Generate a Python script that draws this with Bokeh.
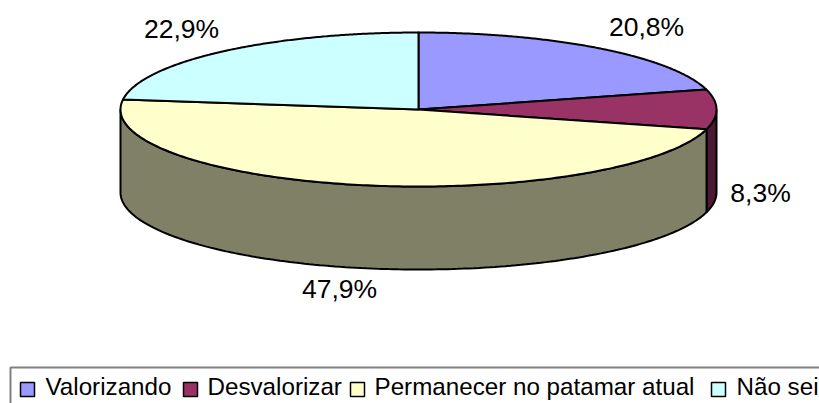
import numpy as np
from bokeh.plotting import figure
from bokeh.models import Range1d
from bokeh.core.properties import value
from bokeh.embed import file_html
from bokeh.resources import INLINE

categories = ["Valorizando", "Desvalorizar", "Permanecer no patamar atual", "Não sei"]
shares = [20.8, 8.3, 47.9, 22.9]
labels = ["20,8%", "8,3%", "47,9%", "22,9%"]
top_colors = ["#9999FF", "#993366", "#FFFFCC", "#CCFFFF"]
side_colors = ["#4D4D80", "#4D1933", "#808066", "#668080"]

CX, CY, RX, RY, DEPTH = 418.0, 109.0, 298.0, 77.0, 83.0
label_pos = [(646, 26), (760, 192), (339, 288), (181, 28)]
swatch_x = [20, 183, 350, 711]
text_x = [45, 207, 374, 736]

W, H = 819, 403

p = figure(width=W, height=H, output_backend="svg", toolbar_location=None,
           x_range=Range1d(0, W), y_range=Range1d(H, 0),
           min_border=0, outline_line_color=None)
p.xaxis.visible = False
p.yaxis.visible = False
p.grid.visible = False


def ell(t, dy=0.0):
    return CX + RX * np.sin(t), CY + dy - RY * np.cos(t)


frac = np.array(shares) / sum(shares) * 2 * np.pi
edges = np.concatenate([[0], np.cumsum(frac)])

# walls
for i in range(len(shares)):
    a, b = max(edges[i], np.pi / 2), min(edges[i + 1], 3 * np.pi / 2)
    if a >= b:
        continue
    t = np.linspace(a, b, 160)
    x1, y1 = ell(t)
    x2, y2 = ell(t[::-1], DEPTH)
    p.patch(np.r_[x1, x2], np.r_[y1, y2], fill_color=side_colors[i],
            line_color="black", line_width=2)

# top faces
for i in range(len(shares)):
    t = np.linspace(edges[i], edges[i + 1], 200)
    x, y = ell(t)
    p.patch(np.r_[CX, x], np.r_[CY, y], fill_color=top_colors[i],
            line_color="black", line_width=2, line_join="round")

# percentage labels
p.text([q[0] for q in label_pos], [q[1] for q in label_pos], text=labels,
       text_font=value("Liberation Sans"), text_font_size="26.5px", text_color="black",
       text_align="center", text_baseline="middle")

# legend
p.quad(left=[10], right=[840], top=[367], bottom=[430], fill_color="white",
       line_color="#808080", line_width=2)
for i, c in enumerate(categories):
    p.quad(left=[swatch_x[i]], right=[swatch_x[i] + 14], top=[382], bottom=[396],
           fill_color=top_colors[i], line_color="black", line_width=1.5)
p.text(text_x, [386] * 4, text=categories, text_font=value("Liberation Sans"),
       text_font_size="24.2px", text_color="black", text_align="left", text_baseline="middle")

open("out.html", "w").write(file_html(p, INLINE))
